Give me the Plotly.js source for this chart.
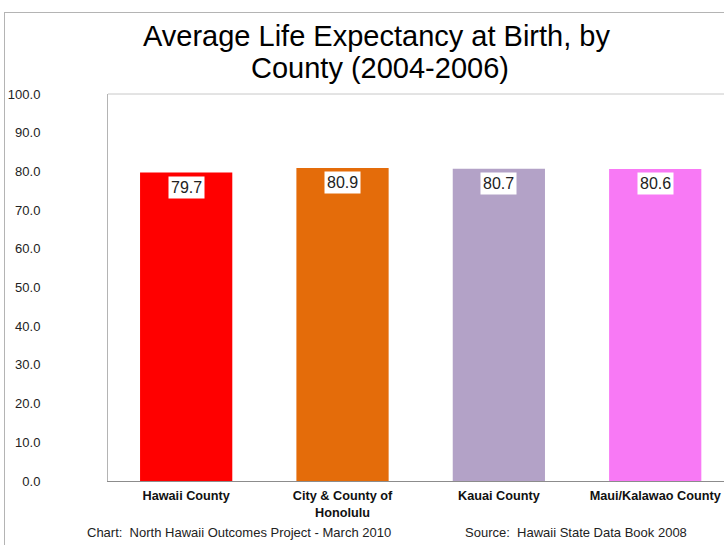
<!DOCTYPE html>
<html>
<head>
<meta charset="utf-8">
<script src="https://cdn.plot.ly/plotly-3.0.1.min.js"></script>
<style>
html,body{margin:0;padding:0;background:#fff;}
#wrap{position:relative;width:724px;height:545px;overflow:hidden;}
#chart{position:absolute;left:0;top:0;width:724px;height:545px;}
#frame{position:absolute;left:4px;top:12px;width:740px;height:560px;border:1px solid #b4b4b4;pointer-events:none;}
</style>
</head>
<body>
<div id="wrap"><div id="chart"></div><div id="frame"></div></div>
<script>
const titleLines = ["Average Life Expectancy at Birth, by", "County (2004-2006)"];
const categories = ["Hawaii County", "City & County of<br>Honolulu", "Kauai County", "Maui/Kalawao County"];
const lifeExpectancy = [79.7, 80.9, 80.7, 80.6];
const valueLabels = ["79.7", "80.9", "80.7", "80.6"];
const barColors = ["#FF0000", "#E46C0A", "#B3A2C7", "#F879F5"];
const yTicks = [0, 10, 20, 30, 40, 50, 60, 70, 80, 90, 100];
const footnotes = ["Chart:  North Hawaii Outcomes Project - March 2010", "Source:  Hawaii State Data Book 2008"];

const FONT = "Liberation Sans, Arial, sans-serif";

const trace = {
  type: "bar",
  x: categories,
  y: lifeExpectancy,
  marker: {color: barColors, line: {width: 0}},
  width: 0.59,
  hoverinfo: "none"
};

const annotations = categories.map((c, i) => ({
  x: c, y: lifeExpectancy[i], xref: "x", yref: "y",
  text: valueLabels[i], showarrow: false,
  yanchor: "top", yshift: -3,
  bgcolor: "#ffffff", borderpad: 2,
  font: {family: FONT, size: 16, color: "#222"}
}));
// title lines (tight line spacing as in reference)
annotations.push({
  xref: "paper", yref: "paper", x: 0.436, y: 1.1486,
  text: titleLines[0], showarrow: false, xanchor: "center", yanchor: "middle",
  font: {family: FONT, size: 29, color: "#000"}
});
annotations.push({
  xref: "paper", yref: "paper", x: 0.441, y: 1.0672,
  text: titleLines[1], showarrow: false, xanchor: "center", yanchor: "middle",
  font: {family: FONT, size: 29, color: "#000"}
});
annotations.push({
  xref: "paper", yref: "paper", x: 0.213, y: -0.134,
  text: footnotes[0],
  showarrow: false, xanchor: "center", yanchor: "middle",
  font: {family: FONT, size: 13, color: "#222"}
});
annotations.push({
  xref: "paper", yref: "paper", x: 0.760, y: -0.134,
  text: footnotes[1],
  showarrow: false, xanchor: "center", yanchor: "middle",
  font: {family: FONT, size: 13, color: "#222"}
});

const layout = {
  width: 724, height: 545,
  margin: {l: 108, r: 0, t: 94, b: 64},
  paper_bgcolor: "#ffffff", plot_bgcolor: "#ffffff",
  showlegend: false,
  xaxis: {
    type: "category",
    range: [-0.5, 3.44],
    showgrid: false, zeroline: false,
    showline: true, linecolor: "#8c8c8c", linewidth: 1,
    ticks: "",
    ticklabelstandoff: 3,
    tickfont: {family: FONT, size: 12.7, color: "#111", weight: "bold"},
    fixedrange: true
  },
  yaxis: {
    range: [0, 100],
    tickvals: yTicks,
    tickformat: ".1f",
    showgrid: false, zeroline: false,
    showline: true, linecolor: "#b4b4b4", linewidth: 1,
    ticks: "",
    ticklabelstandoff: 64,
    tickfont: {family: FONT, size: 13, color: "#222"},
    fixedrange: true
  },
  shapes: [{
    type: "line", xref: "paper", yref: "paper",
    x0: 0, x1: 1, y0: 1, y1: 1,
    line: {color: "#c8c8c8", width: 1}
  }],
  annotations: annotations
};

Plotly.newPlot("chart", [trace], layout, {displayModeBar: false, staticPlot: true});
</script>
</body>
</html>
